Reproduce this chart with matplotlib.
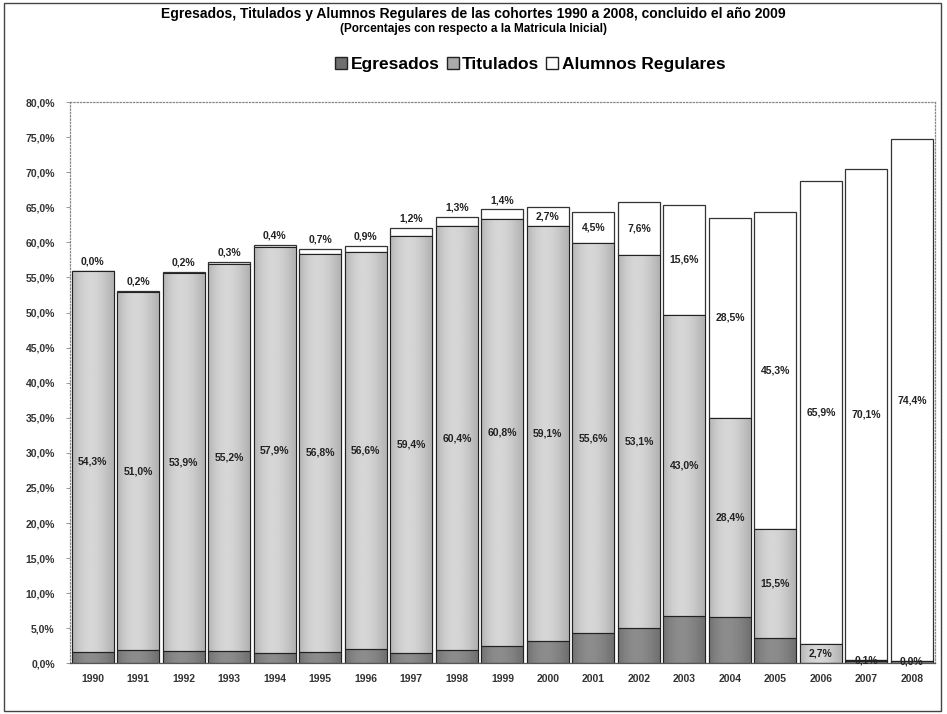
import numpy as np
import matplotlib
matplotlib.use("Agg")
import matplotlib.pyplot as plt
from matplotlib.patches import Patch, Rectangle

plt.rcParams['font.family'] = ['Liberation Sans Narrow', 'Liberation Sans', 'DejaVu Sans']

# cohortes
anios = ['1990', '1991', '1992', '1993', '1994', '1995', '1996', '1997', '1998', '1999',
         '2000', '2001', '2002', '2003', '2004', '2005', '2006', '2007', '2008']
# porcentajes respecto a la matricula inicial
egresados = [1.6, 1.9, 1.7, 1.7, 1.4, 1.6, 2.0, 1.5, 1.9, 2.5,
             3.2, 4.3, 5.1, 6.7, 6.6, 3.6, 0.1, 0.3, 0.3]
titulados = [54.3, 51.0, 53.9, 55.2, 57.9, 56.8, 56.6, 59.4, 60.4, 60.8,
             59.1, 55.6, 53.1, 43.0, 28.4, 15.5, 2.7, 0.1, 0.0]
regulares = [0.0, 0.2, 0.2, 0.3, 0.4, 0.7, 0.9, 1.2, 1.3, 1.4,
             2.7, 4.5, 7.6, 15.6, 28.5, 45.3, 65.9, 70.1, 74.4]
yticks = [0, 5, 10, 15, 20, 25, 30, 35, 40, 45, 50, 55, 60, 65, 70, 75, 80]

def fmt(v):
    return f"{v:.1f}%".replace('.', ',')

fig = plt.figure(figsize=(9.47, 7.14), dpi=100)
ax = fig.add_axes([0.074, 0.071, 0.913, 0.786])

x = np.arange(len(anios))
eg = np.array(egresados)
ti = np.array(titulados)
re = np.array(regulares)
w = 0.92

b1 = ax.bar(x, eg, w, color='#6f6f6f', edgecolor='#222222', linewidth=0.8)
b2 = ax.bar(x, ti, w, bottom=eg, color='#ababab', edgecolor='#222222', linewidth=0.8)
b3 = ax.bar(x, re, w, bottom=eg + ti, color='white', edgecolor='#333333', linewidth=0.9)

# efecto cilindro: borde oscuro, centro claro
t = np.linspace(0, 1, 60)
perfil = 0.55 + 0.45 * np.sin(np.pi * t ** 0.85)
for cont, base, amp in [(b1, 0.30, 0.25), (b2, 0.52, 0.32)]:
    grad = (base + amp * perfil).reshape(1, -1)
    for p in cont:
        if p.get_height() <= 0:
            continue
        im = ax.imshow(grad, cmap='gray', vmin=0, vmax=1, aspect='auto',
                       extent=[p.get_x(), p.get_x() + p.get_width(), p.get_y(), p.get_y() + p.get_height()],
                       zorder=p.get_zorder() + 0.1)
        im.set_clip_path(p)
        ax.add_patch(Rectangle((p.get_x(), p.get_y()), p.get_width(), p.get_height(),
                               fill=False, edgecolor='#222222', linewidth=0.8, zorder=p.get_zorder() + 0.2))

for i in range(len(anios)):
    ax.text(x[i], eg[i] + ti[i] / 2, fmt(ti[i]), ha='center', va='center',
            fontsize=7.5, fontweight='bold', color='#222222', zorder=5)
    if re[i] < 2:
        ax.text(x[i], eg[i] + ti[i] + re[i] + 0.6, fmt(re[i]), ha='center', va='bottom',
                fontsize=7.5, fontweight='bold', color='#222222', zorder=5)
    else:
        ax.text(x[i], eg[i] + ti[i] + re[i] / 2, fmt(re[i]), ha='center', va='center',
                fontsize=7.5, fontweight='bold', color='#222222', zorder=5)

ax.set_xlim(-0.5, len(anios) - 0.5)
ax.set_ylim(0, 80)
ax.set_yticks(yticks)
ax.set_yticklabels([fmt(v) for v in yticks], fontsize=7.5, fontweight='bold', color='#333333')
ax.set_xticks(x)
ax.set_xticklabels(anios, fontsize=7.5, fontweight='bold', color='#333333')
ax.tick_params(axis='x', length=0, pad=8)
ax.tick_params(axis='y', length=3, width=0.6, color='#888888', pad=8)
for s in ax.spines.values():
    s.set_color('#888888')
    s.set_linestyle(':')
    s.set_linewidth(0.9)
ax.spines['bottom'].set_linestyle('-')
ax.spines['bottom'].set_color('#555555')

fig.text(0.5, 0.981, 'Egresados, Titulados y Alumnos Regulares de las cohortes 1990 a 2008, concluido el año 2009',
         ha='center', va='center', fontsize=10, fontweight='bold')
fig.text(0.5, 0.960, '(Porcentajes con respecto a la Matricula Inicial)',
         ha='center', va='center', fontsize=8.5, fontweight='bold')

handles = [Patch(facecolor='#6f6f6f', edgecolor='#222222'),
           Patch(facecolor='#ababab', edgecolor='#222222'),
           Patch(facecolor='white', edgecolor='#222222')]
fig.legend(handles, ['Egresados', 'Titulados', 'Alumnos Regulares'], loc='center',
           bbox_to_anchor=(0.56, 0.910), ncol=3, frameon=False, handlelength=0.7,
           handleheight=0.7, handletextpad=0.2, columnspacing=0.4,
           prop={'size': 12.5, 'weight': 'bold'})

fig.patches.append(Rectangle((0.004, 0.004), 0.99, 0.992, transform=fig.transFigure,
                             fill=False, edgecolor='#444444', linewidth=1.0))

fig.savefig('out.png', dpi=100)
